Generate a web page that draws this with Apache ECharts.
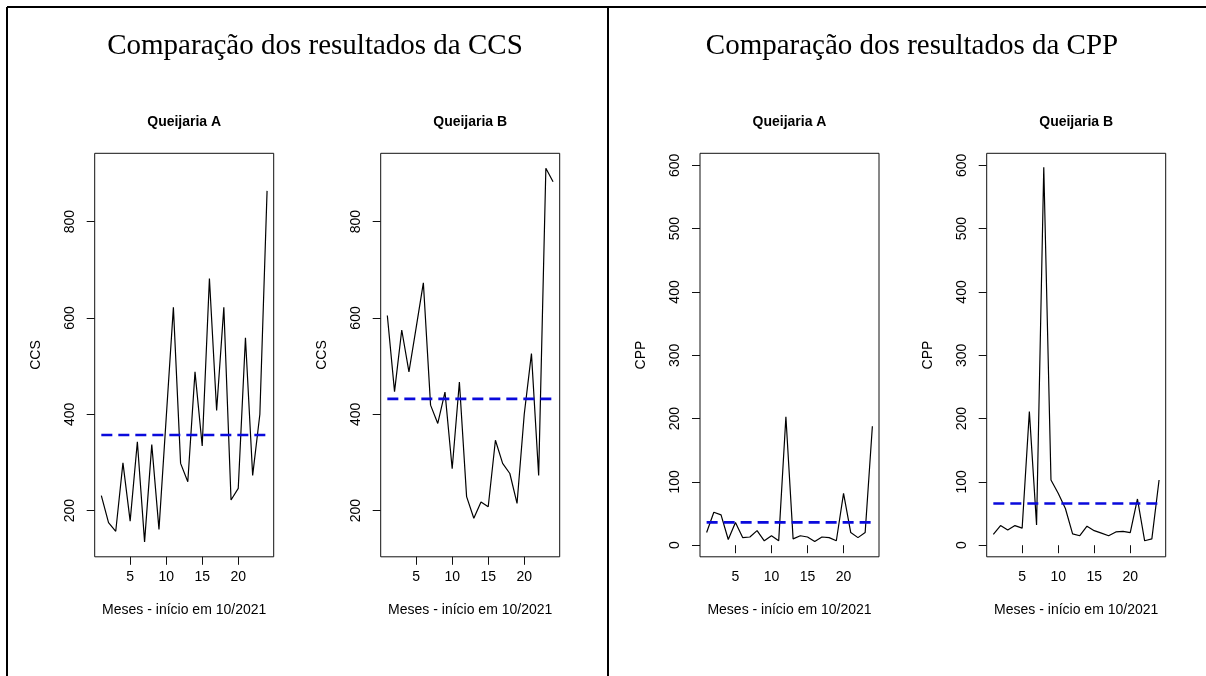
<!DOCTYPE html>
<html>
<head>
<meta charset="utf-8">
<title>Comparação dos resultados da CCS e da CPP</title>
<script src="https://cdn.jsdelivr.net/npm/echarts@6/dist/echarts.min.js"></script>
<style>
  html, body { margin: 0; padding: 0; background: #fff; }
  #chart { width: 1206px; height: 676px; }
</style>
</head>
<body>
<div id="chart"></div>
<script>
// Monthly results, starting in 10/2021
const months = [1, 2, 3, 4, 5, 6, 7, 8, 9, 10, 11, 12, 13, 14, 15, 16, 17, 18, 19, 20, 21, 22, 23, 24];

// CCS per cheese dairy
const ccsQueijariaA = [231, 175, 157, 299, 178, 343, 135, 337, 161, 392, 622, 298, 260, 488, 334, 682, 408, 622, 222, 246, 559, 273, 400, 864];
const ccsQueijariaB = [605, 447, 575, 488, 580, 673, 419, 381, 446, 287, 467, 229, 184, 218, 208, 346, 298, 277, 215, 400, 526, 273, 911, 883];

// CPP per cheese dairy
const cppQueijariaA = [20, 52, 48, 9, 36, 12, 13, 23, 7, 15, 7, 203, 10, 15, 13, 6, 13, 12, 7, 82, 20, 12, 20, 188];
const cppQueijariaB = [17, 31, 24, 31, 27, 211, 32, 597, 103, 82, 58, 18, 15, 30, 23, 19, 15, 21, 22, 20, 73, 7, 10, 103];

// Horizontal reference levels (Queijaria A, Queijaria B)
const ccsReference = [357, 432];
const cppReference = [36, 66];

// Tick labels
const xTickValues = [5, 10, 15, 20];
const ccsTickValues = [200, 400, 600, 800];
const cppTickValues = [0, 100, 200, 300, 400, 500, 600];

const panelTitles = ['Queijaria A', 'Queijaria B', 'Queijaria A', 'Queijaria B'];
const sectionTitles = ['Comparação dos resultados da CCS', 'Comparação dos resultados da CPP'];
const xAxisName = 'Meses - início em 10/2021';

// Shared value ranges (data range extended by 4%, as in base R plots)
const ccsRange = [104, 942];
const cppRange = [-18.3, 619];
const xRange = [0.08, 24.92];

const panels = [
  { left: 94.7,  values: ccsQueijariaA, ref: ccsReference[0], range: ccsRange, ticks: ccsTickValues, yName: 'CCS' },
  { left: 380.7, values: ccsQueijariaB, ref: ccsReference[1], range: ccsRange, ticks: ccsTickValues, yName: 'CCS' },
  { left: 700,   values: cppQueijariaA, ref: cppReference[0], range: cppRange, ticks: cppTickValues, yName: 'CPP' },
  { left: 986.7, values: cppQueijariaB, ref: cppReference[1], range: cppRange, ticks: cppTickValues, yName: 'CPP' }
];

const plotTop = 153.3;
const plotWidth = 179;
const plotHeight = 403.5;
const ink = '#111';
const sansFont = '"Liberation Sans", Arial, sans-serif';
const serifFont = '"Liberation Serif", "Times New Roman", serif';
const smallText = 14;

const grids = [], xAxes = [], yAxes = [], series = [], graphics = [];

panels.forEach((p, k) => {
  grids.push({
    left: p.left, top: plotTop, width: plotWidth, height: plotHeight,
    show: true, borderColor: ink, borderWidth: 1, backgroundColor: '#fff',
    containLabel: false
  });
  xAxes.push({
    gridIndex: k, type: 'value', min: xRange[0], max: xRange[1],
    axisLine: { show: false },
    axisTick: { show: true, length: 8, customValues: xTickValues, lineStyle: { color: ink, width: 1 } },
    axisLabel: { customValues: xTickValues, margin: 13, fontSize: smallText, color: '#000', fontFamily: sansFont },
    splitLine: { show: false },
    name: xAxisName, nameLocation: 'middle', nameGap: 46,
    nameTextStyle: { fontSize: smallText, color: '#000', fontFamily: sansFont }
  });
  yAxes.push({
    gridIndex: k, type: 'value', min: p.range[0], max: p.range[1],
    axisLine: { show: false },
    axisTick: { show: true, length: 8, customValues: p.ticks, lineStyle: { color: ink, width: 1 } },
    axisLabel: { customValues: p.ticks, rotate: 90, margin: 18, fontSize: smallText, color: '#000', fontFamily: sansFont },
    splitLine: { show: false },
    name: p.yName, nameLocation: 'middle', nameRotate: 90, nameGap: 52,
    nameTextStyle: { fontSize: smallText, color: '#000', fontFamily: sansFont }
  });
  series.push({
    type: 'line', xAxisIndex: k, yAxisIndex: k,
    data: months.map((m, i) => [m, p.values[i]]),
    showSymbol: false, symbol: 'none',
    lineStyle: { color: '#000', width: 1.2 },
    silent: true
  });
  series.push({
    type: 'line', xAxisIndex: k, yAxisIndex: k,
    data: [[months[0], p.ref], [months[months.length - 1], p.ref]],
    showSymbol: false, symbol: 'none',
    lineStyle: { color: '#0a0adc', width: 2.6, type: [11, 6] },
    silent: true
  });
  graphics.push({
    type: 'text', x: p.left + plotWidth / 2, y: 122,
    style: { text: panelTitles[k], font: 'bold 14px ' + sansFont, fill: '#000', textAlign: 'center', textVerticalAlign: 'middle' }
  });
});

// Section headings
graphics.push({
  type: 'text', x: 315, y: 46,
  style: { text: sectionTitles[0], font: '29px ' + serifFont, fill: '#000', textAlign: 'center', textVerticalAlign: 'middle' }
});
graphics.push({
  type: 'text', x: 912, y: 46,
  style: { text: sectionTitles[1], font: '29px ' + serifFont, fill: '#000', textAlign: 'center', textVerticalAlign: 'middle' }
});

// Frame around the two sections
const frame = { stroke: '#000', lineWidth: 2 };
graphics.push({ type: 'line', shape: { x1: 7, y1: 7, x2: 1206, y2: 7 }, style: frame });
graphics.push({ type: 'line', shape: { x1: 7, y1: 7, x2: 7, y2: 676 }, style: frame });
graphics.push({ type: 'line', shape: { x1: 608, y1: 7, x2: 608, y2: 676 }, style: frame });

const chart = echarts.init(document.getElementById('chart'), null, { renderer: 'canvas' });
chart.setOption({
  animation: false,
  backgroundColor: '#fff',
  grid: grids,
  xAxis: xAxes,
  yAxis: yAxes,
  series: series,
  graphic: graphics
});
</script>
</body>
</html>
